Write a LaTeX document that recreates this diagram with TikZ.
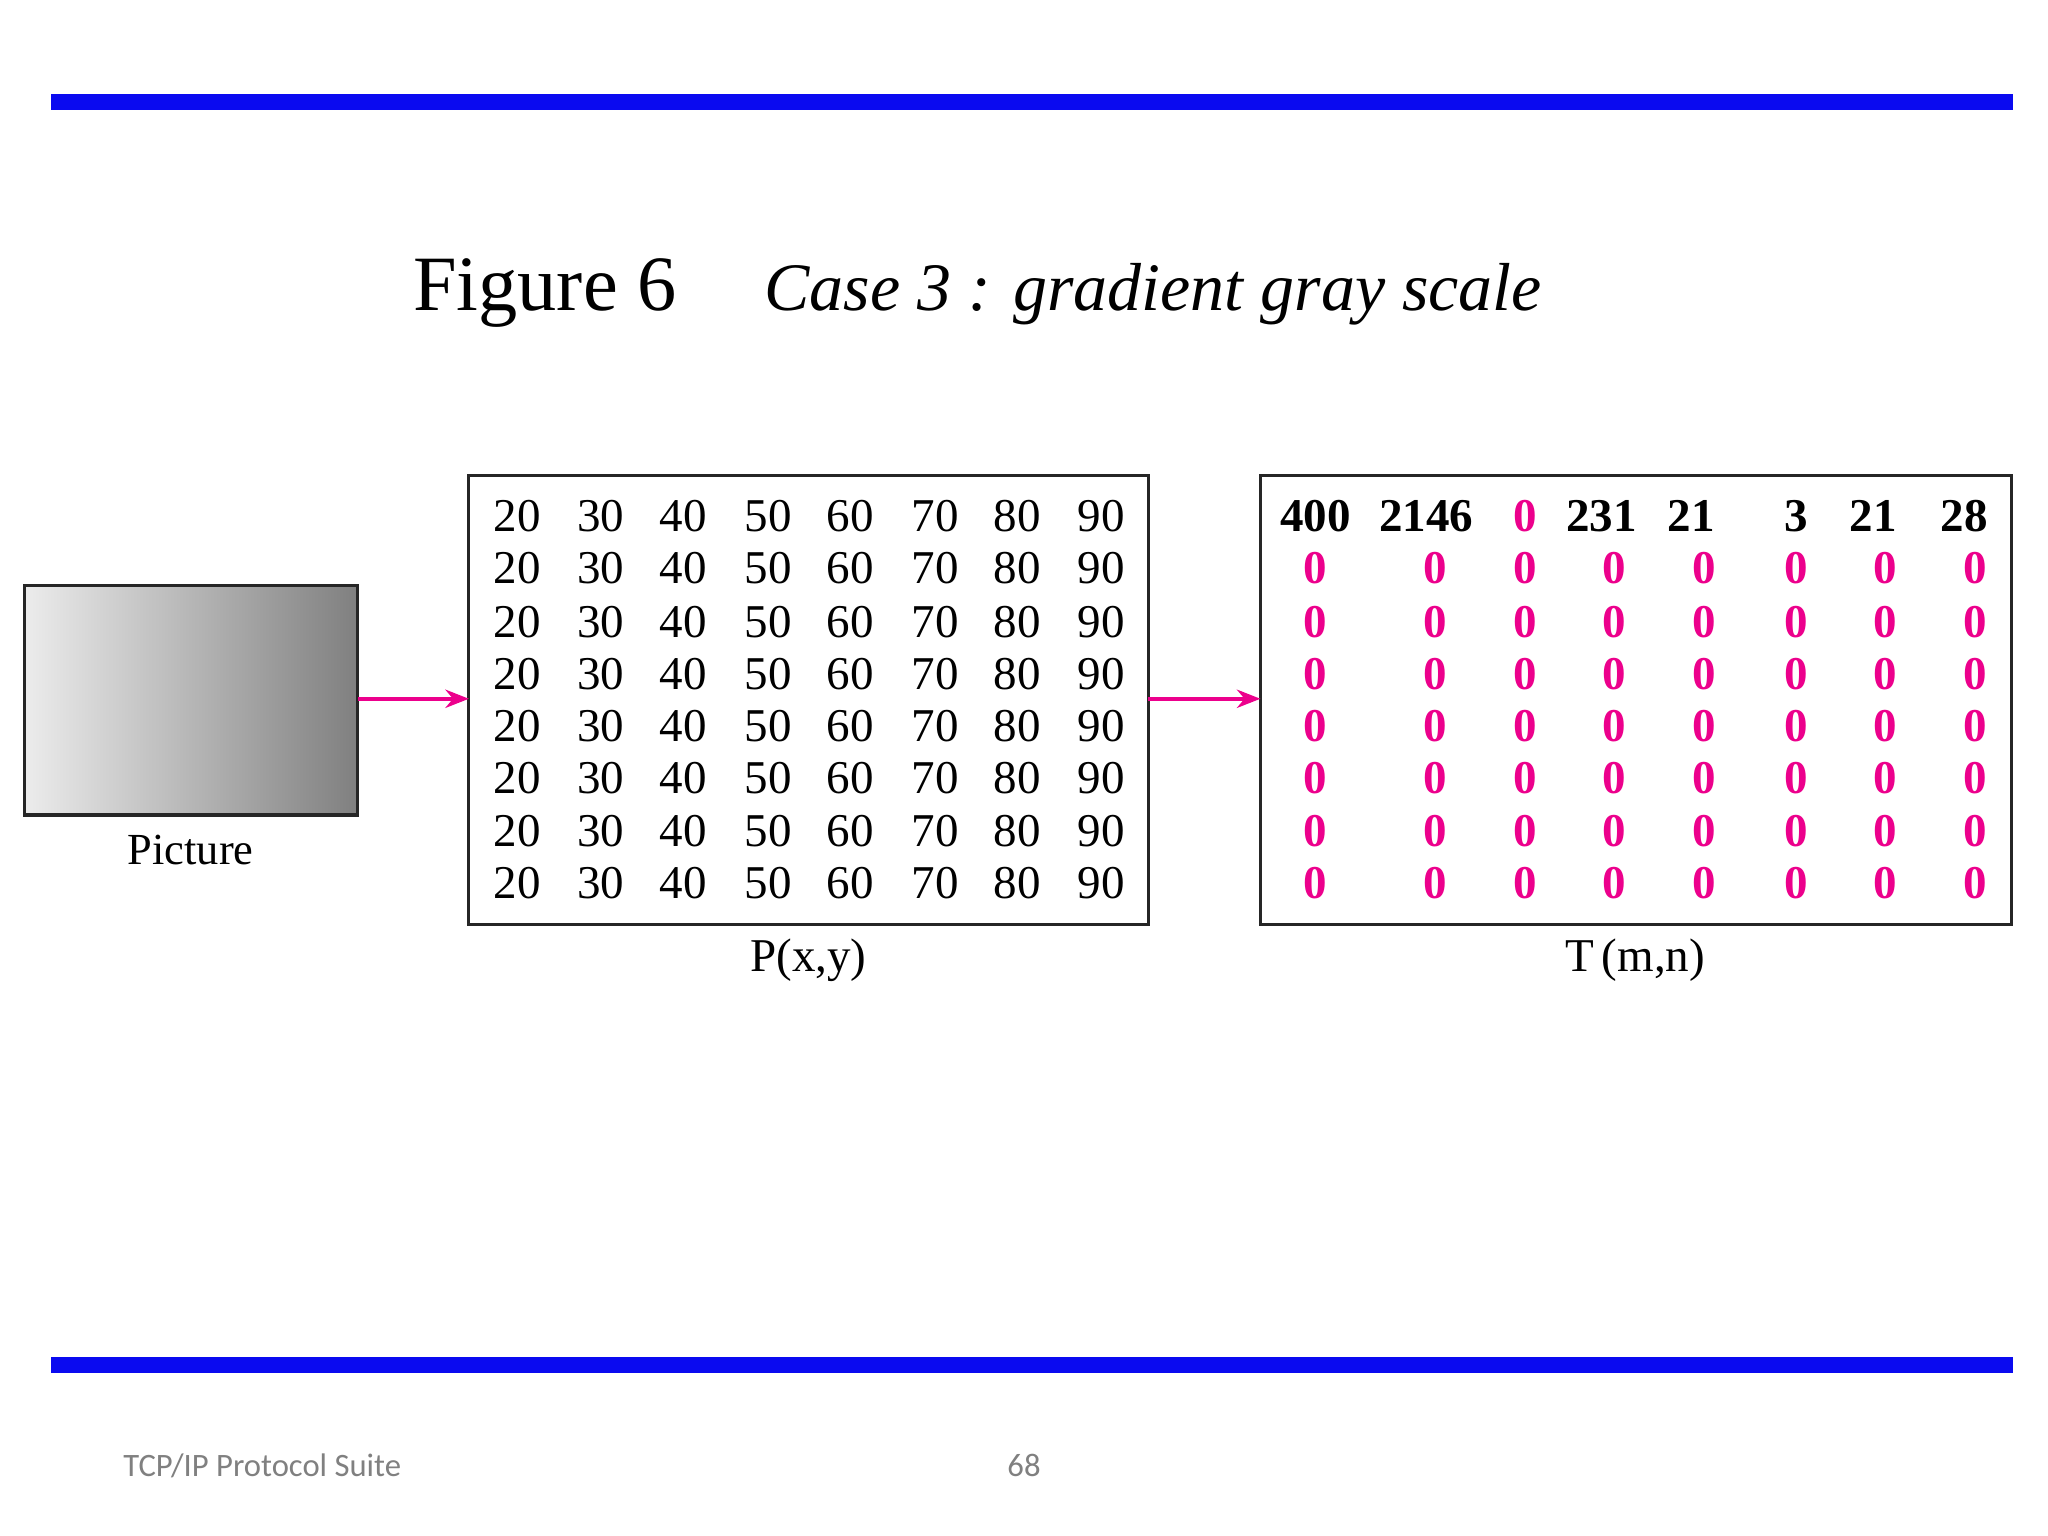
\documentclass[tikz,border=0pt]{standalone}
\usepackage{fontspec}
\setmainfont{Liberation Serif}
\newfontfamily\footfont{Carlito}
\usetikzlibrary{arrows.meta}
\definecolor{barblue}{RGB}{10,10,240}
\definecolor{mag}{RGB}{236,0,140}
\begin{document}
\begin{tikzpicture}[x=0.5pt,y=-0.5pt,
  num/.style={font=\fontsize{18}{18}\selectfont,inner sep=0pt},
  bnum/.style={font=\fontsize{18}{18}\selectfont\bfseries,inner sep=0pt},
  zer/.style={bnum,text=mag},
  arr/.style={draw=mag,line width=1.4pt,-{Stealth[length=9pt,width=7pt]}},
  box/.style={draw=black!85,line width=1.2pt}]
\useasboundingbox (0,0) rectangle (1568,1176);
\fill[barblue] (39,72) rectangle (1541,84);
\fill[barblue] (39,1039) rectangle (1541,1051);
\node[anchor=base west,inner sep=0pt,font=\fontsize{30}{30}\selectfont] (fig) at (316,238) {Figure 6};
\node[anchor=base west,inner sep=0pt,font=\fontsize{26}{26}\selectfont\itshape] (cap) at (585,238) {Case 3 : gradient gray scale};
\shade[left color=gray!15,middle color=gray!35,right color=gray!100] (19,448) rectangle (274,624);
\draw[box] (19,448) rectangle (274,624);
\coordinate (picR) at (274,535);
\node[font=\fontsize{17}{17}\selectfont] (pl) at (146,651) {Picture};
\draw[box] (359,364) rectangle (879,708);
\coordinate (pL) at (359,535);
\coordinate (pR) at (879,535);
\node[font=\fontsize{18}{18}\selectfont] (plab) at (619,735) {P(x,y)};
\foreach \r/\yy in {1/395,2/435,3/476,4/516,5/556,6/596,7/636,8/676}{
  \foreach \xx/\v in {396/20,460/30,523/40,588/50,651/60,716/70,779/80,843/90}{
    \node[num] (p\r-\v) at (\xx,\yy) {\v};}}
\draw[box] (965,364) rectangle (1540,708);
\coordinate (tL) at (965,535);
\node[font=\fontsize{18}{18}\selectfont] (tlab) at (1252,735) {T\,(m,n)};
\foreach \xx/\v/\s [count=\i] in {1007/400/bnum,1092/2146/bnum,1168/0/zer,1226/231/bnum,1295/21/bnum,1375/3/bnum,1434/21/bnum,1504/28/bnum}{
  \node[\s] (t1-\i) at (\xx,395) {\v};}
\foreach \r/\yy in {2/435,3/476,4/516,5/556,6/596,7/636,8/676}{
  \foreach \xx [count=\i] in {1007,1099,1168,1236,1305,1375,1443,1512}{
    \node[zer] (t\r-\i) at (\xx,\yy) {0};}}
\draw[arr] (picR) -- (pL);
\draw[arr] (pR) -- (tL);
\node[anchor=west,inner sep=0pt,text=gray,font=\footfont\fontsize{12.5}{12.5}\selectfont] (f1) at (94,1122) {TCP/IP Protocol Suite};
\node[text=gray,font=\footfont\fontsize{12.5}{12.5}\selectfont] (f2) at (784,1122) {68};
\end{tikzpicture}
\end{document}
